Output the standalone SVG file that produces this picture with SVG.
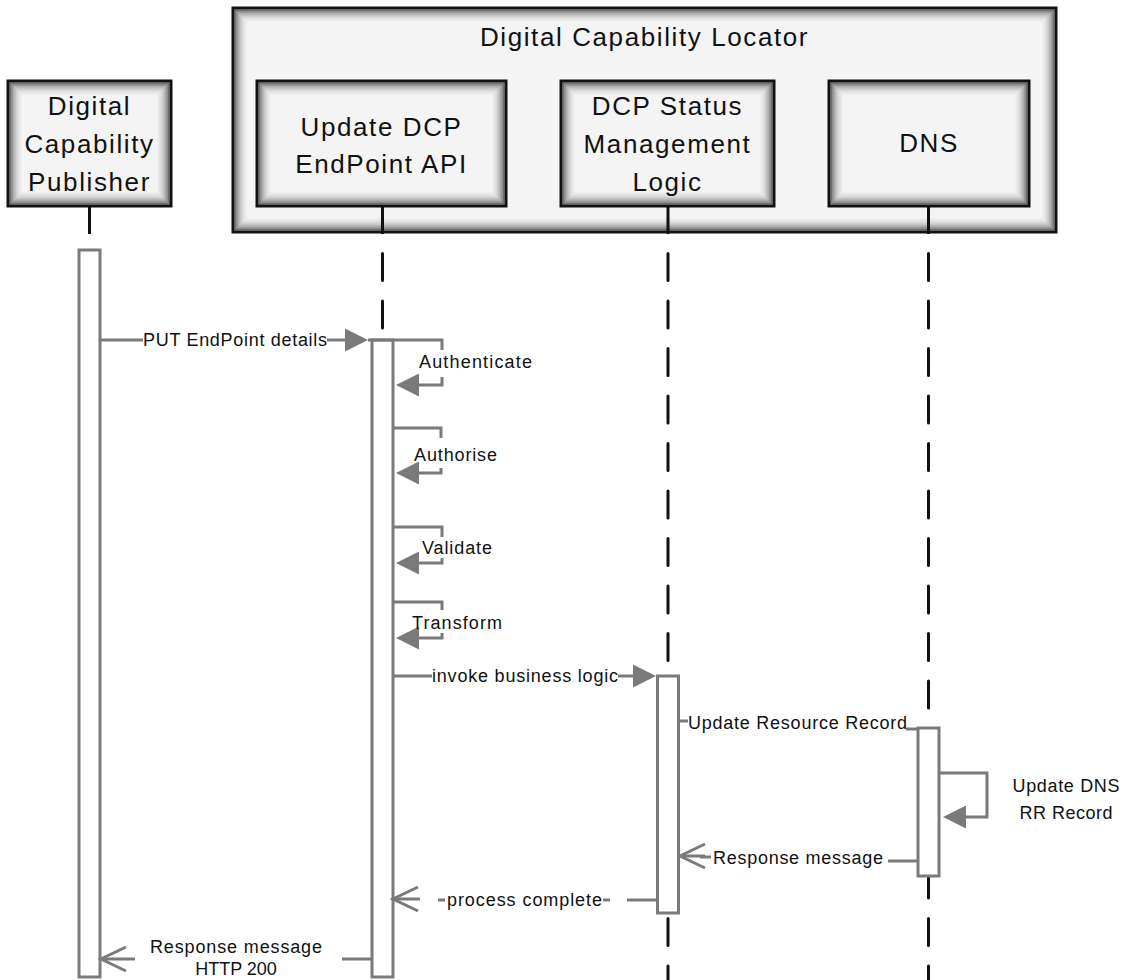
<svg xmlns="http://www.w3.org/2000/svg" width="1126" height="980" viewBox="0 0 1126 980">
<defs>
<style>
.box{fill:#f4f4f4}
.border{fill:none;stroke:#111;stroke-width:3}
.v1,.v2,.v3,.v4,.v5,.v6{fill:none;stroke:#000;stroke-width:2}
.v1{stroke-opacity:.55}
.v2{stroke-opacity:.38}
.v3{stroke-opacity:.25}
.v4{stroke-opacity:.15}
.v5{stroke-opacity:.08}
.v6{stroke-opacity:.04}
.big{font-family:"Liberation Sans",Arial,sans-serif;font-size:26px;fill:#111;text-anchor:middle;letter-spacing:1.6px}
.lbl{font-family:"Liberation Sans",Arial,sans-serif;font-size:18px;fill:#111}
.mid{text-anchor:middle}
.msg{stroke:#7a7a7a;stroke-width:3;fill:none}
.bar{fill:#fff;stroke:#7a7a7a;stroke-width:3}
.life{stroke:#111;stroke-width:3;fill:none}
.dash{stroke:#111;stroke-width:3;fill:none;stroke-dasharray:27 20.5;stroke-linecap:round}
</style>
<marker id="filled" viewBox="0 0 23 23" refX="1" refY="11.5" markerWidth="23" markerHeight="23" markerUnits="userSpaceOnUse" orient="auto">
<path d="M0,0 L23,11.5 L0,23 z" fill="#7a7a7a"/>
</marker>
<marker id="open" viewBox="0 0 30 30" refX="27" refY="15" markerWidth="30" markerHeight="30" markerUnits="userSpaceOnUse" orient="auto">
<path d="M2,3 L27,15 L2,27" fill="none" stroke="#7a7a7a" stroke-width="3"/>
</marker>
</defs>
<rect width="1126" height="980" fill="#fff"/>

<g id="node-locator">
<rect class="box" x="233" y="8" width="823" height="224"/>
<rect class="v1" x="235.5" y="10.5" width="818" height="219"/>
<rect class="v2" x="237.5" y="12.5" width="814" height="215"/>
<rect class="v3" x="239.5" y="14.5" width="810" height="211"/>
<rect class="v4" x="241.5" y="16.5" width="806" height="207"/>
<rect class="v5" x="243.5" y="18.5" width="802" height="203"/>
<rect class="v6" x="245.5" y="20.5" width="798" height="199"/>
<rect class="border" x="233" y="8" width="823" height="224"/>
<text class="big" x="644.5" y="46">Digital Capability Locator</text>
</g>

<g id="lifelines">
<path class="life" d="M89.5,206 V234 M382.5,206 V234 M668,206 V234 M928.5,206 V234"/>
<path class="dash" d="M382.5,253.5 V340 M668,253.5 V980 M928.5,253.5 V980"/>
</g>

<g id="node-publisher">
<rect class="box" x="8" y="81" width="163" height="125"/>
<rect class="v1" x="10.5" y="83.5" width="158" height="120"/>
<rect class="v2" x="12.5" y="85.5" width="154" height="116"/>
<rect class="v3" x="14.5" y="87.5" width="150" height="112"/>
<rect class="v4" x="16.5" y="89.5" width="146" height="108"/>
<rect class="v5" x="18.5" y="91.5" width="142" height="104"/>
<rect class="v6" x="20.5" y="93.5" width="138" height="100"/>
<rect class="border" x="8" y="81" width="163" height="125"/>
<text class="big" x="89.5" y="115">Digital</text>
<text class="big" x="89.5" y="153">Capability</text>
<text class="big" x="89.5" y="191">Publisher</text>
</g>

<g id="node-update-api">
<rect class="box" x="257" y="81" width="249" height="125"/>
<rect class="v1" x="259.5" y="83.5" width="244" height="120"/>
<rect class="v2" x="261.5" y="85.5" width="240" height="116"/>
<rect class="v3" x="263.5" y="87.5" width="236" height="112"/>
<rect class="v4" x="265.5" y="89.5" width="232" height="108"/>
<rect class="v5" x="267.5" y="91.5" width="228" height="104"/>
<rect class="v6" x="269.5" y="93.5" width="224" height="100"/>
<rect class="border" x="257" y="81" width="249" height="125"/>
<text class="big" x="381.5" y="136">Update DCP</text>
<text class="big" x="381.5" y="173">EndPoint API</text>
</g>

<g id="node-dcp-status">
<rect class="box" x="561" y="81" width="213" height="125"/>
<rect class="v1" x="563.5" y="83.5" width="208" height="120"/>
<rect class="v2" x="565.5" y="85.5" width="204" height="116"/>
<rect class="v3" x="567.5" y="87.5" width="200" height="112"/>
<rect class="v4" x="569.5" y="89.5" width="196" height="108"/>
<rect class="v5" x="571.5" y="91.5" width="192" height="104"/>
<rect class="v6" x="573.5" y="93.5" width="188" height="100"/>
<rect class="border" x="561" y="81" width="213" height="125"/>
<text class="big" x="667.5" y="115">DCP Status</text>
<text class="big" x="667.5" y="153">Management</text>
<text class="big" x="667.5" y="191">Logic</text>
</g>

<g id="node-dns">
<rect class="box" x="829" y="81" width="200" height="125"/>
<rect class="v1" x="831.5" y="83.5" width="195" height="120"/>
<rect class="v2" x="833.5" y="85.5" width="191" height="116"/>
<rect class="v3" x="835.5" y="87.5" width="187" height="112"/>
<rect class="v4" x="837.5" y="89.5" width="183" height="108"/>
<rect class="v5" x="839.5" y="91.5" width="179" height="104"/>
<rect class="v6" x="841.5" y="93.5" width="175" height="100"/>
<rect class="border" x="829" y="81" width="200" height="125"/>
<text class="big" x="929" y="152">DNS</text>
</g>

<g id="activations">
<rect class="bar" x="79" y="250" width="21" height="727"/>
<rect class="bar" x="372" y="340" width="21" height="637"/>
<rect class="bar" x="657.5" y="676" width="21" height="237"/>
<rect class="bar" x="918" y="728" width="21" height="148"/>
</g>

<g id="connectors">
<!-- PUT EndPoint details -->
<path class="msg" d="M100,340 H143"/>
<path class="msg" d="M327,340 H346" marker-end="url(#filled)"/>
<text class="lbl" x="143" y="346" textLength="184" lengthAdjust="spacing">PUT EndPoint details</text>
<!-- Authenticate -->
<path class="msg" d="M368,340 H442 V350"/>
<path class="msg" d="M442,377 V385 H418" marker-end="url(#filled)"/>
<text class="lbl" x="419" y="368" textLength="113" lengthAdjust="spacing">Authenticate</text>
<!-- Authorise -->
<path class="msg" d="M393,428 H441 V438"/>
<path class="msg" d="M441,468 V473 H418" marker-end="url(#filled)"/>
<text class="lbl" x="414" y="461" textLength="83" lengthAdjust="spacing">Authorise</text>
<!-- Validate -->
<path class="msg" d="M393,527 H442 V537"/>
<path class="msg" d="M442,558 V563 H418" marker-end="url(#filled)"/>
<text class="lbl" x="422" y="554" textLength="70" lengthAdjust="spacing">Validate</text>
<!-- Transform -->
<path class="msg" d="M393,602 H442 V610"/>
<path class="msg" d="M442,633 V638 H418" marker-end="url(#filled)"/>
<text class="lbl" x="412" y="629" textLength="90" lengthAdjust="spacing">Transform</text>
<!-- invoke business logic -->
<path class="msg" d="M393,676 H432"/>
<path class="msg" d="M618,676 H634" marker-end="url(#filled)"/>
<text class="lbl" x="432" y="682" textLength="186" lengthAdjust="spacing">invoke business logic</text>
<!-- Update Resource Record -->
<path class="msg" d="M678.5,721 H688"/>
<path class="msg" d="M906,729 H918"/>
<text class="lbl" x="688" y="729" textLength="219" lengthAdjust="spacing">Update Resource Record</text>
<!-- Update DNS RR Record -->
<path class="msg" d="M939,773 H987 V817 H965" marker-end="url(#filled)"/>
<text class="lbl mid" x="1066" y="792" textLength="107" lengthAdjust="spacing">Update DNS</text>
<text class="lbl mid" x="1066" y="819" textLength="93" lengthAdjust="spacing">RR Record</text>
<!-- Response message (DNS to DCP) -->
<path class="msg" d="M918,861 H888"/>
<path class="msg" d="M711,857 H700"/>
<path class="msg" d="M705,856 H680" marker-end="url(#open)"/>
<text class="lbl" x="713" y="864" textLength="170" lengthAdjust="spacing">Response message</text>
<!-- process complete -->
<path class="msg" d="M657.5,900 H627"/>
<path class="msg" d="M610,900 H603 M445,900 H438"/>
<path class="msg" d="M420,899 H393" marker-end="url(#open)"/>
<text class="lbl" x="447" y="906" textLength="155" lengthAdjust="spacing">process complete</text>
<!-- Response message HTTP 200 -->
<path class="msg" d="M372,959 H342"/>
<path class="msg" d="M135,959 H101" marker-end="url(#open)"/>
<text class="lbl mid" x="236" y="953" textLength="172" lengthAdjust="spacing">Response message</text>
<text class="lbl mid" x="236" y="975">HTTP 200</text>
</g>
</svg>
